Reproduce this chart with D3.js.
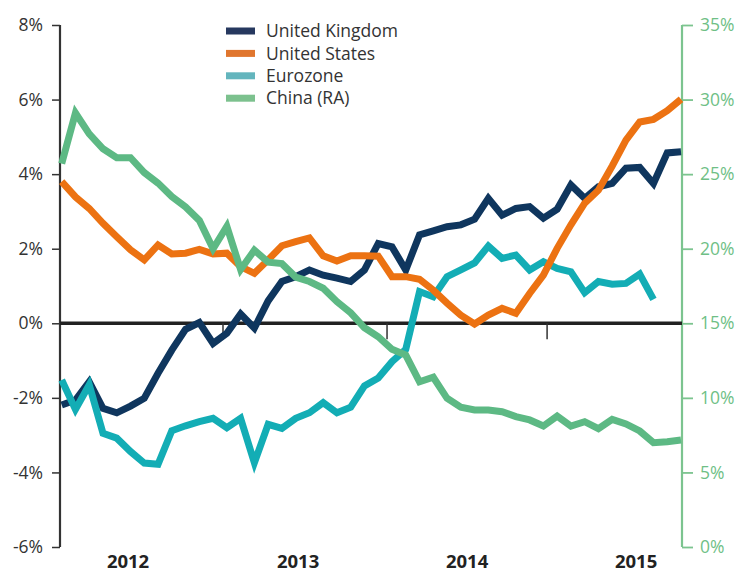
<!DOCTYPE html>
<html><head><meta charset="utf-8">
<script src="https://cdn.jsdelivr.net/npm/d3@7"></script>
<style>body{margin:0;background:#fff}svg{display:block}</style>
</head><body><svg id="c" width="740" height="574"></svg>
<script>
// monthly observations, index 0..45
const ukValues = [-2.19,-2.06,-1.57,-2.28,-2.40,-2.22,-2.01,-1.34,-0.72,-0.16,0.02,-0.54,-0.27,0.25,-0.13,0.60,1.12,1.25,1.43,1.29,1.21,1.12,1.43,2.14,2.05,1.43,2.37,2.48,2.59,2.64,2.79,3.35,2.90,3.08,3.13,2.82,3.06,3.71,3.35,3.66,3.75,4.16,4.18,3.75,4.57,4.60];
const usValues = [3.80,3.39,3.08,2.68,2.32,1.97,1.70,2.10,1.86,1.88,1.98,1.86,1.88,1.52,1.34,1.70,2.08,2.19,2.29,1.81,1.67,1.81,1.81,1.80,1.25,1.25,1.18,0.89,0.54,0.22,-0.02,0.22,0.40,0.27,0.80,1.29,2.01,2.64,3.22,3.57,4.22,4.91,5.40,5.47,5.70,6.01];
const euroValues = [-1.52,-2.31,-1.65,-2.95,-3.08,-3.44,-3.75,-3.78,-2.88,-2.75,-2.64,-2.55,-2.80,-2.55,-3.74,-2.71,-2.82,-2.55,-2.40,-2.13,-2.40,-2.25,-1.68,-1.47,-1.03,-0.70,0.85,0.71,1.25,1.43,1.62,2.07,1.74,1.83,1.43,1.65,1.47,1.38,0.82,1.12,1.05,1.07,1.32,0.64];
const chinaValues = [25.7,29.1,27.7,26.7,26.1,26.1,25.1,24.4,23.5,22.8,21.9,20.0,21.5,18.6,19.9,19.1,19.0,18.1,17.8,17.35,16.45,15.7,14.7,14.1,13.26,12.87,11.08,11.38,9.97,9.37,9.19,9.19,9.07,8.74,8.52,8.11,8.78,8.11,8.40,7.93,8.56,8.25,7.78,6.99,7.06,7.17];
const seriesNames = ["United Kingdom","United States","Eurozone","China (RA)"];
const leftTicks = [-6,-4,-2,0,2,4,6,8];
const rightTicks = [0,5,10,15,20,25,30,35];
const yearLabels = ["2012","2013","2014","2015"];
const yearLabelAt = [4.82,17.18,29.46,41.74];
const yearTickAt = [11.72,23.64,35.27];

const colors = {uk:"#0f365e", us:"#ec7212", euro:"#13adb5", china:"#5db984"};
const legendColors = ["#26385f","#e0762e","#63b5bd","#7cc18e"];

const svg = d3.select("#c");
const x = d3.scaleLinear().domain([0,45]).range([61.7,681]);
const yL = d3.scaleLinear().domain([-6,8]).range([547,25]);
const yR = d3.scaleLinear().domain([0,35]).range([547,25]);
const font = "'Open Sans', Lato, sans-serif";

// left axis
const la = svg.append("g").attr("transform","translate(60,0)")
  .call(d3.axisLeft(yL).tickValues(leftTicks).tickSize(8).tickPadding(9).tickFormat(d=>d+"%"));
la.select(".domain").attr("stroke","#333").attr("stroke-width",2.2).attr("d","M0,25V547");
la.selectAll(".tick line").attr("stroke","#333").attr("stroke-width",1.5);
la.selectAll(".tick text").attr("fill","#333").style("font-family",font).style("font-size","17.5px");

// right axis
const ra = svg.append("g").attr("transform","translate(682,0)")
  .call(d3.axisRight(yR).tickValues(rightTicks).tickSize(11).tickPadding(7).tickFormat(d=>d+"%"));
ra.select(".domain").attr("stroke","#7cc48f").attr("stroke-width",2.2).attr("d","M0,25V547");
ra.selectAll(".tick line").attr("stroke","#7cc48f").attr("stroke-width",1.8);
ra.selectAll(".tick text").attr("fill","#6fbf86").style("font-family",font).style("font-size","17.5px");

// zero line with year ticks
svg.append("line").attr("x1",60).attr("x2",682).attr("y1",yL(0)).attr("y2",yL(0))
  .attr("stroke","#222").attr("stroke-width",3.5);
svg.selectAll(".ytick").data(yearTickAt).enter().append("line")
  .attr("x1",d=>x(d)).attr("x2",d=>x(d)).attr("y1",yL(0)).attr("y2",yL(0)+16)
  .attr("stroke","#333").attr("stroke-width",1.5);
svg.selectAll(".ylab").data(yearLabels).enter().append("text")
  .attr("x",(d,i)=>x(yearLabelAt[i])).attr("y",568).attr("text-anchor","middle")
  .attr("fill","#222").style("font-family",font).style("font-size","18.5px").style("font-weight","bold")
  .text(d=>d);

// lines
const lineL = d3.line().x((d,i)=>x(i)).y(d=>yL(d));
const lineR = d3.line().x((d,i)=>x(i)).y(d=>yR(d));
const draw = (vals, gen, col) => svg.append("path").datum(vals).attr("d",gen)
  .attr("fill","none").attr("stroke",col).attr("stroke-width",7).attr("stroke-linejoin","miter");
draw(ukValues, lineL, colors.uk);
draw(euroValues, lineL, colors.euro);
draw(usValues, lineL, colors.us);
draw(chinaValues, lineR, colors.china);

// legend
const lg = svg.append("g");
seriesNames.forEach((n,i)=>{
  const cy = 31 + i*22.4;
  lg.append("rect").attr("x",226).attr("y",cy-3.5).attr("width",29).attr("height",7).attr("fill",legendColors[i]);
  lg.append("text").attr("x",266).attr("y",cy).attr("dy","0.35em").attr("fill","#333")
    .style("font-family",font).style("font-size","17.5px").text(n);
});
</script></body></html>
